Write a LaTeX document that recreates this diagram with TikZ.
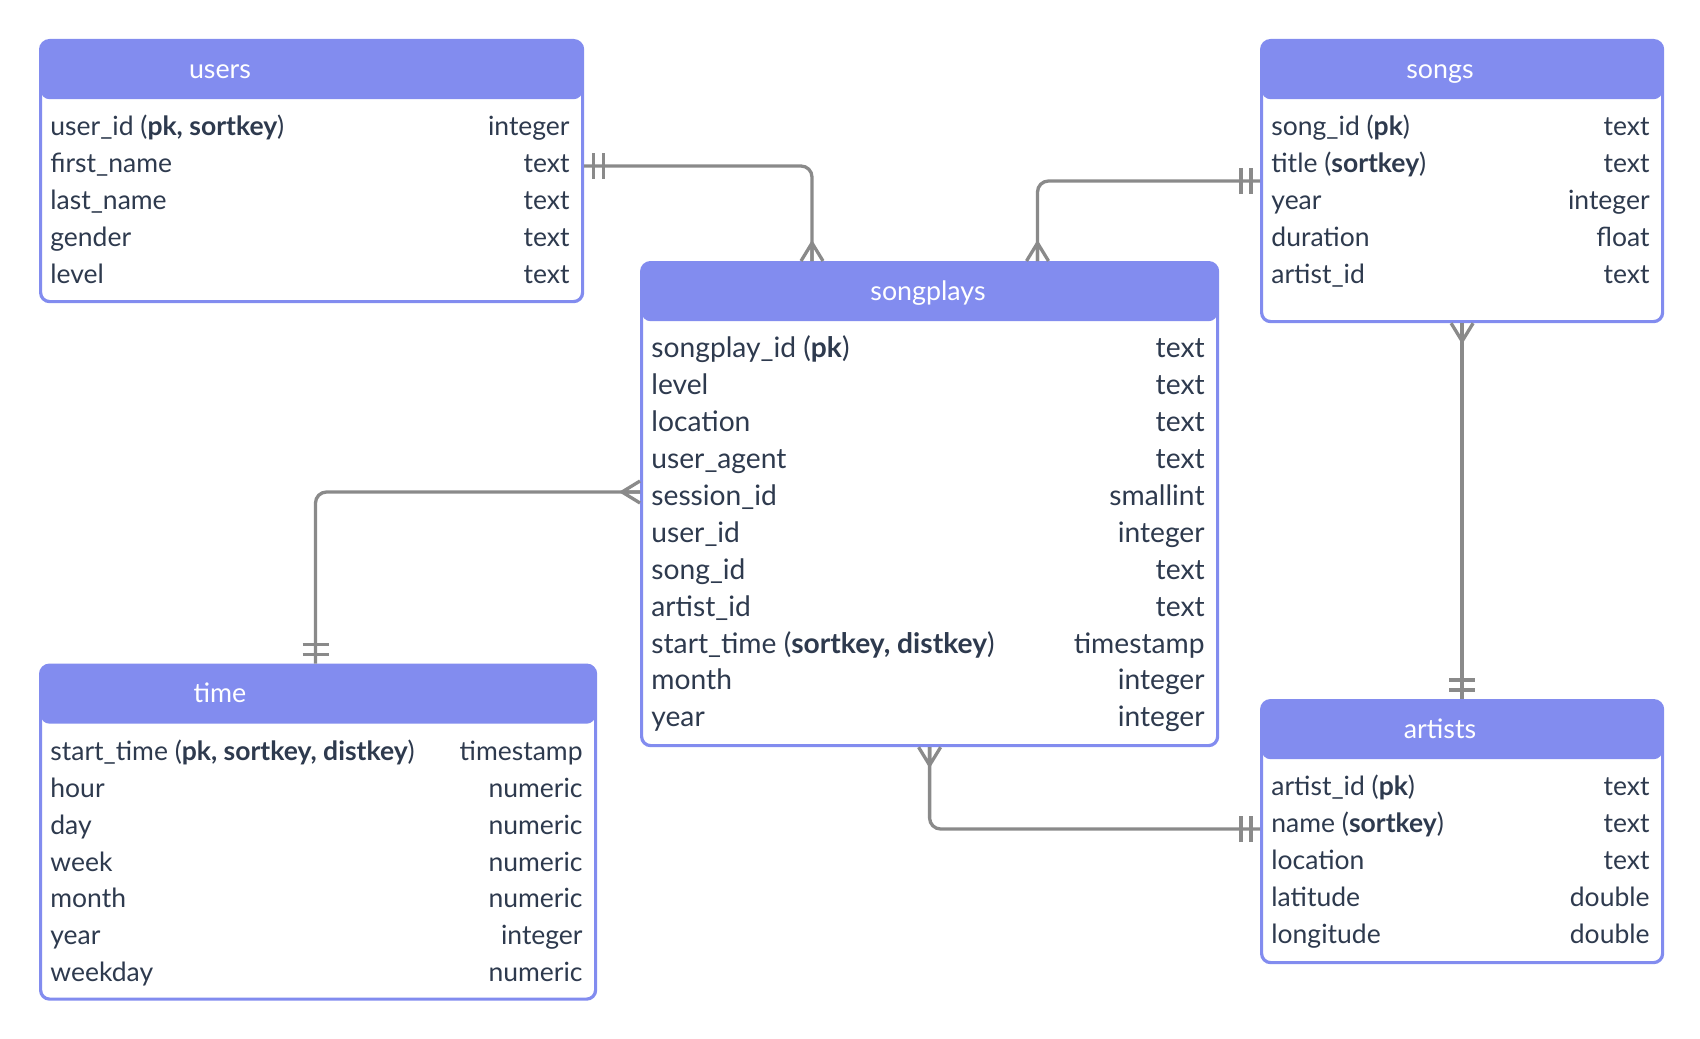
\documentclass[tikz,border=0pt]{standalone}
\usepackage{fontspec}
\setmainfont{Lato}
\usetikzlibrary{calc}
\definecolor{HeadBlue}{RGB}{130,140,239}
\definecolor{FieldInk}{RGB}{46,58,78}
\definecolor{LinkGray}{RGB}{138,138,138}

\begin{document}
\begin{tikzpicture}[x=0.5pt,y=0.5pt,yscale=-1,xscale=1,
	erbox/.style={draw=HeadBlue, line width=1.6pt, fill=white, rounded corners=4.5pt, inner sep=0pt, anchor=north west,
		path picture={\fill[HeadBlue] (path picture bounding box.north west) rectangle ($(path picture bounding box.north east)!29.3pt!(path picture bounding box.south east)$);}},
	headtext/.style={text=white, font=\fontsize{13.4}{16}\selectfont, inner sep=0pt, text height=12.8pt, text depth=3pt},
	fieldname/.style={text=FieldInk, font=\fontsize{13.25}{16}\selectfont, inner sep=0pt, text height=13.2pt, text depth=3pt, anchor=west},
	fieldtype/.style={text=FieldInk, font=\fontsize{13.25}{16}\selectfont, inner sep=0pt, text height=13.2pt, text depth=3pt, anchor=east},
	bigfield/.style={font=\fontsize{14.1}{17}\selectfont},
	link/.style={draw=LinkGray, line width=1.65pt, rounded corners=5.5pt},
	crowfoot/.pic={\draw[LinkGray, line width=1.65pt] (0,-11) -- (-18,0) -- (0,11) (-18,0) -- (0,0);},
	onlyone/.pic={\draw[LinkGray, line width=1.65pt] (-9,-13) -- (-9,13) (-19,-13) -- (-19,13);}]
		\useasboundingbox (0,0) rectangle (1700,1038);

		% Table frames with their coloured header bars
		\node[erbox, minimum width=271pt, minimum height=130.5pt] (users) at (39,39) {};
		\node[erbox, minimum width=200.5pt, minimum height=140.5pt] (songs) at (1260,39) {};
		\node[erbox, minimum width=288pt, minimum height=241.5pt] (songplays) at (640,261) {};
		\node[erbox, minimum width=277.5pt, minimum height=167pt] (time) at (39,663.5) {};
		\node[erbox, minimum width=200.5pt, minimum height=131pt] (artists) at (1260,699) {};

		% Header titles
		\node[headtext] (users-h) at (220,68.3) {users};
		\node[headtext] (songs-h) at (1440,68.3) {songs};
		\node[headtext] (songplays-h) at (928,290.3) {songplays};
		\node[headtext] (time-h) at (220,692.8) {time};
		\node[headtext] (artists-h) at (1440,728.3) {artists};

		% users columns
		\node[fieldname] (users-n1) at (50,125.6) {user\_id (\textbf{pk, sortkey})};
		\node[fieldname] (users-n2) at (50,162.5) {first\_name};
		\node[fieldname] (users-n3) at (50,199.4) {last\_name};
		\node[fieldname] (users-n4) at (50,236.3) {gender};
		\node[fieldname] (users-n5) at (50,273.2) {level};
		\node[fieldtype] (users-t1) at (570,125.6) {integer};
		\node[fieldtype] (users-t2) at (570,162.5) {text};
		\node[fieldtype] (users-t3) at (570,199.4) {text};
		\node[fieldtype] (users-t4) at (570,236.3) {text};
		\node[fieldtype] (users-t5) at (570,273.2) {text};

		% songs columns
		\node[fieldname] (songs-n1) at (1271,125.6) {song\_id (\textbf{pk})};
		\node[fieldname] (songs-n2) at (1271,162.5) {title (\textbf{sortkey})};
		\node[fieldname] (songs-n3) at (1271,199.4) {year};
		\node[fieldname] (songs-n4) at (1271,236.3) {duration};
		\node[fieldname] (songs-n5) at (1271,273.2) {artist\_id};
		\node[fieldtype] (songs-t1) at (1650,125.6) {text};
		\node[fieldtype] (songs-t2) at (1650,162.5) {text};
		\node[fieldtype] (songs-t3) at (1650,199.4) {integer};
		\node[fieldtype] (songs-t4) at (1650,236.3) {float};
		\node[fieldtype] (songs-t5) at (1650,273.2) {text};

		% songplays columns (set a little larger in the source)
		\node[fieldname, bigfield] (songplays-n1) at (651,347.6) {songplay\_id (\textbf{pk})};
		\node[fieldname, bigfield] (songplays-n2) at (651,384.5) {level};
		\node[fieldname, bigfield] (songplays-n3) at (651,421.4) {location};
		\node[fieldname, bigfield] (songplays-n4) at (651,458.3) {user\_agent};
		\node[fieldname, bigfield] (songplays-n5) at (651,495.2) {session\_id};
		\node[fieldname, bigfield] (songplays-n6) at (651,532.1) {user\_id};
		\node[fieldname, bigfield] (songplays-n7) at (651,569.0) {song\_id};
		\node[fieldname, bigfield] (songplays-n8) at (651,605.9) {artist\_id};
		\node[fieldname, bigfield] (songplays-n9) at (651,642.8) {start\_time (\textbf{sortkey, distkey})};
		\node[fieldname, bigfield] (songplays-n10) at (651,679.7) {month};
		\node[fieldname, bigfield] (songplays-n11) at (651,716.6) {year};
		\node[fieldtype, bigfield] (songplays-t1) at (1205,347.6) {text};
		\node[fieldtype, bigfield] (songplays-t2) at (1205,384.5) {text};
		\node[fieldtype, bigfield] (songplays-t3) at (1205,421.4) {text};
		\node[fieldtype, bigfield] (songplays-t4) at (1205,458.3) {text};
		\node[fieldtype, bigfield] (songplays-t5) at (1205,495.2) {smallint};
		\node[fieldtype, bigfield] (songplays-t6) at (1205,532.1) {integer};
		\node[fieldtype, bigfield] (songplays-t7) at (1205,569.0) {text};
		\node[fieldtype, bigfield] (songplays-t8) at (1205,605.9) {text};
		\node[fieldtype, bigfield] (songplays-t9) at (1205,642.8) {timestamp};
		\node[fieldtype, bigfield] (songplays-t10) at (1205,679.7) {integer};
		\node[fieldtype, bigfield] (songplays-t11) at (1205,716.6) {integer};

		% time columns
		\node[fieldname] (time-n1) at (50,750.1) {start\_time (\textbf{pk, sortkey, distkey})};
		\node[fieldname] (time-n2) at (50,787.0) {hour};
		\node[fieldname] (time-n3) at (50,823.9) {day};
		\node[fieldname] (time-n4) at (50,860.8) {week};
		\node[fieldname] (time-n5) at (50,897.7) {month};
		\node[fieldname] (time-n6) at (50,934.6) {year};
		\node[fieldname] (time-n7) at (50,971.5) {weekday};
		\node[fieldtype] (time-t1) at (583,750.1) {timestamp};
		\node[fieldtype] (time-t2) at (583,787.0) {numeric};
		\node[fieldtype] (time-t3) at (583,823.9) {numeric};
		\node[fieldtype] (time-t4) at (583,860.8) {numeric};
		\node[fieldtype] (time-t5) at (583,897.7) {numeric};
		\node[fieldtype] (time-t6) at (583,934.6) {integer};
		\node[fieldtype] (time-t7) at (583,971.5) {numeric};

		% artists columns
		\node[fieldname] (artists-n1) at (1271,785.6) {artist\_id (\textbf{pk})};
		\node[fieldname] (artists-n2) at (1271,822.5) {name (\textbf{sortkey})};
		\node[fieldname] (artists-n3) at (1271,859.4) {location};
		\node[fieldname] (artists-n4) at (1271,896.3) {latitude};
		\node[fieldname] (artists-n5) at (1271,933.2) {longitude};
		\node[fieldtype] (artists-t1) at (1650,785.6) {text};
		\node[fieldtype] (artists-t2) at (1650,822.5) {text};
		\node[fieldtype] (artists-t3) at (1650,859.4) {text};
		\node[fieldtype] (artists-t4) at (1650,896.3) {double};
		\node[fieldtype] (artists-t5) at (1650,933.2) {double};

		% Where the relations meet the tables
		\coordinate (users-out) at ($(users.north east)+(0,127)$);
		\coordinate (songplays-in1) at ($(songplays.north west)+(172,0)$);
		\coordinate (songs-out) at ($(songs.north west)+(0,142)$);
		\coordinate (songplays-in2) at ($(songplays.north west)+(397.5,0)$);
		\coordinate (songplays-left) at ($(songplays.north west)+(0,231)$);
		\coordinate (time-in) at ($(time.north west)+(276.5,0)$);
		\coordinate (artists-in) at ($(artists.north west)+(0,130)$);

		% Relation lines
		\draw[link] (users-out) -| (songplays-in1);
		\draw[link] (songs-out) -| (songplays-in2);
		\draw[link] (songplays-left) -| (time-in);
		\draw[link] (songplays.south) |- (artists-in);
		\draw[link] (songs.south) -- (artists.north);

		% One-ends (double bars) and many-ends (crow's feet)
		\pic[rotate=180] (users-bar) at (users-out) {onlyone};
		\pic[rotate=-90] (songplays-foot1) at (songplays-in1) {crowfoot};
		\pic[rotate=0] (songs-bar) at (songs-out) {onlyone};
		\pic[rotate=-90] (songplays-foot2) at (songplays-in2) {crowfoot};
		\pic[rotate=0] (songplays-foot3) at (songplays-left) {crowfoot};
		\pic[rotate=-90] (time-bar) at (time-in) {onlyone};
		\pic[rotate=90] (songplays-foot4) at (songplays.south) {crowfoot};
		\pic[rotate=0] (artists-bar) at (artists-in) {onlyone};
		\pic[rotate=90] (songs-foot) at (songs.south) {crowfoot};
		\pic[rotate=-90] (artists-bar2) at (artists.north) {onlyone};
	\end{tikzpicture}
\end{document}
